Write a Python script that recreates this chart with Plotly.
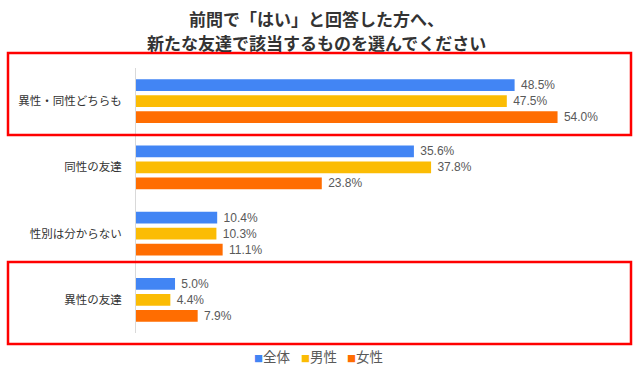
import plotly.graph_objects as go

categories = ["異性・同性どちらも", "同性の友達", "性別は分からない", "異性の友達"]
series_names = ["全体", "男性", "女性"]
all_vals = [48.5, 35.6, 10.4, 5.0]
male_vals = [47.5, 37.8, 10.3, 4.4]
female_vals = [54.0, 23.8, 11.1, 7.9]
colors = ["#4285F4", "#FBBC04", "#FF6D01"]
title_lines = ["前問で「はい」と回答した方へ、", "新たな友達で該当するものを選んでください"]

W, H = 641, 370
L, R, T, B = 136, 21, 68, 37
pw, ph = W - L - R, H - T - B

fig = go.Figure()
for name, vals, col in zip(series_names, [all_vals, male_vals, female_vals], colors):
    fig.add_trace(go.Bar(
        y=categories, x=vals, name=name, orientation="h",
        marker=dict(color=col, line=dict(width=0)),
        text=["\u00a0" + f"{v:.1f}%" for v in vals],
        textposition="outside", cliponaxis=False, constraintext="none",
        textfont=dict(family="Liberation Sans, Noto Sans CJK JP", size=12, color="#595959"),
    ))

def px_x(p):
    return (p - L) / pw

def px_y(p):
    return (H - B - p) / ph

shapes = []
for top, bot in [(53, 135), (262, 344)]:
    shapes.append(dict(type="rect", xref="paper", yref="paper",
                       x0=px_x(8), x1=px_x(631), y0=px_y(bot), y1=px_y(top),
                       line=dict(color="#FF0000", width=2.5), fillcolor="rgba(0,0,0,0)"))

annotations = []
for line, yc in zip(title_lines, [18, 42]):
    annotations.append(dict(text=line, xref="paper", yref="paper",
                            x=px_x(316), y=px_y(yc), xanchor="center", yanchor="middle",
                            showarrow=False,
                            font=dict(size=17, color="#333333", family="Noto Sans CJK JP",
                                      weight="bold")))

legend_x = [252, 299, 345]
for n, c, lx in zip(series_names, colors, legend_x):
    annotations.append(dict(text=f"<span style='color:{c}; font-size:9px'>■</span>{n}",
                            xref="paper", yref="paper",
                            x=px_x(lx), y=px_y(356), xanchor="left", yanchor="middle",
                            showarrow=False,
                            font=dict(size=13.5, color="#595959", family="Noto Sans CJK JP")))

fig.update_layout(
    width=W, height=H,
    margin=dict(l=L, r=R, t=T, b=B, autoexpand=False),
    paper_bgcolor="white", plot_bgcolor="white",
    barmode="group", bargap=0.275, bargroupgap=0.28,
    font=dict(family="Noto Sans CJK JP", color="#404040"),
    xaxis=dict(range=[0, 62], showgrid=False, showticklabels=False, zeroline=False,
               showline=False, ticks=""),
    yaxis=dict(autorange="reversed", showgrid=False, showline=True, linecolor="#D9D9D9",
               linewidth=1, ticks="", ticklabelstandoff=11,
               tickfont=dict(size=11.5, color="#333333", family="Noto Sans CJK JP")),
    shapes=shapes,
    annotations=annotations,
    showlegend=False,
)

fig.write_html("out.html", config={"displayModeBar": False},
               post_script="document.body.style.margin='0';document.body.style.overflow='hidden';")
